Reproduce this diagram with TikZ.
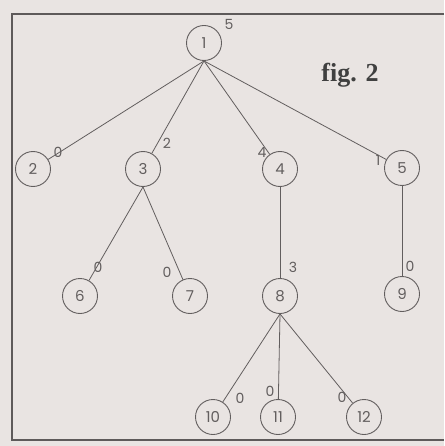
\documentclass[tikz,border=0pt]{standalone}
\usepackage{fontspec}
\setmainfont{Poppins}
\newfontfamily\figfont{Liberation Serif}
\definecolor{paper}{HTML}{E9E4E2}
\definecolor{ink}{HTML}{625E5E}
\definecolor{frameink}{HTML}{5E5A5A}
\begin{document}
\begin{tikzpicture}[x=1pt,y=-1pt,
  vert/.style={circle,draw=ink,line width=0.9pt,minimum size=35pt,inner sep=0pt,text=ink,font=\fontsize{15}{15}\selectfont},
  wt/.style={text=ink,inner sep=0pt,font=\fontsize{14}{14}\selectfont},
  edge/.style={draw=ink,line width=0.8pt}]
\useasboundingbox (0,0) rectangle (444,446);
\fill[paper] (0,0) rectangle (444,446);
\draw[frameink,line width=2pt] (444,14) -- (12,14) -- (12,440) -- (444,440);
% nodes
\node[vert] (n1) at (204,43) {1};
\node[vert] (n2) at (33,169) {2};
\node[vert] (n3) at (143,169) {3};
\node[vert] (n4) at (280,169) {4};
\node[vert] (n5) at (402,168) {5};
\node[vert] (n6) at (80,296) {6};
\node[vert] (n7) at (190,296) {7};
\node[vert] (n8) at (280,296) {8};
\node[vert] (n9) at (402,294) {9};
\node[vert] (n10) at (213,417) {10};
\node[vert] (n11) at (278,417) {11};
\node[vert] (n12) at (364,417) {12};
% weights
\node[wt] (w1) at (229,24) {5};
\node[wt] (w2) at (58,152) {0};
\node[wt] (w3) at (167,143) {2};
\node[wt] (w4) at (262,152) {4};
\node[wt] (w5) at (378,160) {1};
\node[wt] (w6) at (98,267) {0};
\node[wt] (w7) at (167,272) {0};
\node[wt] (w8) at (293,267) {3};
\node[wt] (w9) at (410,266) {0};
\node[wt] (w10) at (240,398) {0};
\node[wt] (w11) at (270,391) {0};
\node[wt] (w12) at (342,397) {0};
% title
\node[text=black!75,inner sep=0pt,font=\figfont\bfseries\fontsize{26}{26}\selectfont] (fig) at (350,75) {fig. 2};
% edges
\draw[edge] (n1.south) -- (n2);
\draw[edge] (n1.south) -- (n3);
\draw[edge] (n1.south) -- (n4);
\draw[edge] (n1.south) -- (n5);
\draw[edge] (n3.south) -- (n6);
\draw[edge] (n3.south) -- (n7);
\draw[edge] (n4) -- (n8);
\draw[edge] (n5) -- (n9);
\draw[edge] (n8.south) -- (n10);
\draw[edge] (n8.south) -- (n11);
\draw[edge] (n8.south) -- (n12);
\end{tikzpicture}
\end{document}
